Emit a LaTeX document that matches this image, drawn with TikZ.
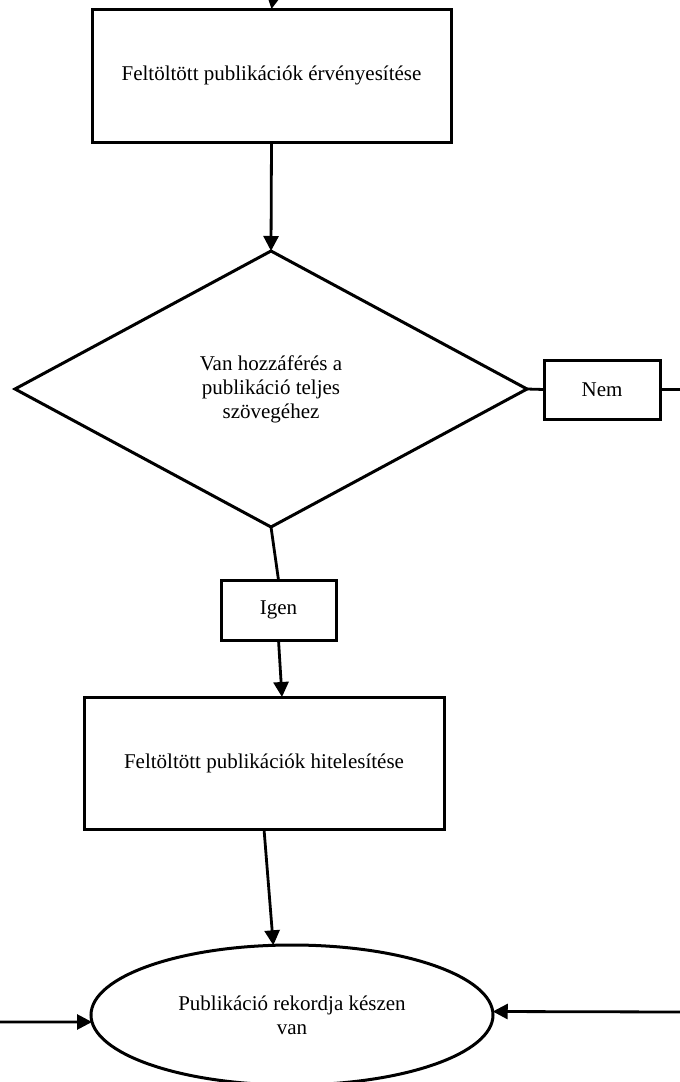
\documentclass[tikz,border=0pt]{standalone}
\usepackage{fontspec}
\setmainfont{Liberation Serif}
\usetikzlibrary{shapes.geometric,arrows.meta}
\begin{document}
\begin{tikzpicture}[x=1pt,y=-1pt,
  every node/.style={font=\fontsize{21}{24}\selectfont, outer sep=0pt, inner sep=0pt, align=center},
  procbox/.style={draw, line width=3pt, rectangle},
  decision/.style={draw, line width=3pt, diamond},
  terminal/.style={draw, line width=3pt, ellipse},
  conn/.style={line width=2.8pt},
  arr/.style={conn, -{Triangle[length=15pt,width=15pt]}}]
\useasboundingbox (0,0) rectangle (680,1082);

\node[procbox, minimum width=359pt, minimum height=133pt] (b1) at (271.5,75.5) {Feltöltött publikációk érvényesítése};
\node[decision, minimum width=512pt, minimum height=276pt] (dia) at (271,389) {Van hozzáférés a\\publikáció teljes\\szövegéhez};
\node[procbox, minimum width=116pt, minimum height=59pt] (nem) at (602,389.5) {Nem};
\node[procbox, minimum width=115pt, minimum height=60pt] (igen) at (278.5,610) {Igen};
\node[procbox, minimum width=360pt, minimum height=132pt] (b2) at (264,763) {Feltöltött publikációk hitelesítése};
\node[terminal, minimum width=402pt, minimum height=140pt] (ell) at (292,1015) {Publikáció rekordja készen\\van};

\coordinate (topin) at (273,0);
\coordinate (nemout) at (681,389.5);
\coordinate (leftin) at (-1,1022);
\coordinate (rightin) at (681,1012);

\draw[arr] (topin) -- (b1.north);
\draw[arr] (b1.south) -- (dia.north);
\draw[conn] (dia.east) -- (nem.west);
\draw[conn] (nem.east) -- (nemout);
\draw[conn] (dia.south) -- (igen.north);
\draw[arr] (igen.south) -- ([xshift=18pt]b2.north);
\draw[arr] (b2.south) -- (ell.105);
\draw[arr] (leftin) -- (ell.182);
\draw[arr] (rightin) -- (ell.1);
\end{tikzpicture}
\end{document}
